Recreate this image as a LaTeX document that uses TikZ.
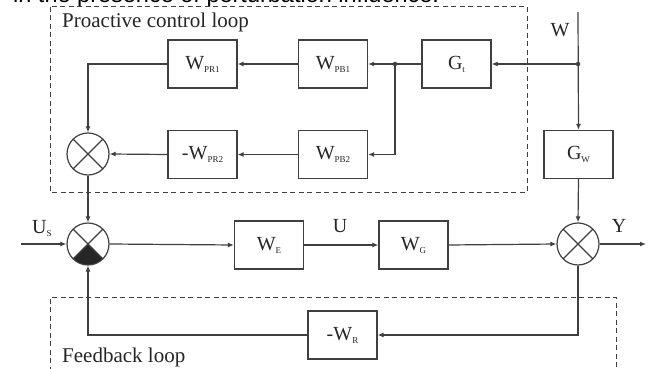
\documentclass[tikz,border=0pt]{standalone}
\usepackage{fontspec}
\setmainfont{Liberation Serif}
\newfontfamily\capfont{Liberation Sans}
\usetikzlibrary{arrows.meta,calc}
\definecolor{ln}{gray}{0.25}
\tikzset{
  blk/.style={draw=ln,line width=1.2pt,minimum width=69pt,minimum height=48pt,inner sep=0pt,font=\fontsize{20}{20}\selectfont,text=black!85},
  sumc/.style={draw=ln,line width=1.2pt,circle,minimum size=42pt,inner sep=0pt,
    path picture={\draw[ln,line width=1.2pt] (path picture bounding box.north west)--(path picture bounding box.south east)
      (path picture bounding box.north east)--(path picture bounding box.south west);}},
  sumf/.style={sumc,path picture={
      \fill[black!85] (path picture bounding box.center)--(path picture bounding box.south west)--(path picture bounding box.south east)--cycle;
      \draw[ln,line width=1.2pt] (path picture bounding box.north west)--(path picture bounding box.south east)
      (path picture bounding box.north east)--(path picture bounding box.south west);}},
  con/.style={draw=ln,line width=1.2pt},
  arr/.style={con,-{Latex[length=6pt,width=5pt]}},
  dbox/.style={draw=ln,line width=1pt,dash pattern=on 5pt off 3.5pt},
  lbl/.style={font=\fontsize{20}{20}\selectfont,text=black!85,inner sep=0pt},
  dot/.style={circle,fill=ln,inner sep=0pt,minimum size=4.5pt}
}
\newcommand{\sbs}[1]{\raisebox{-3pt}{\fontsize{9}{9}\selectfont #1}}
\begin{document}
\begin{tikzpicture}[x=1pt,y=-1pt]
\useasboundingbox (0,0) rectangle (648,369);
\fill[white] (0,0) rectangle (648,369);
% caption cut off at top
\node[anchor=base west,inner sep=0pt,font=\capfont\fontsize{23.5}{23.5}\selectfont] (cap) at (13,3) {in the presence of perturbation influence.};
% dashed regions
\draw[dbox] (50,7) rectangle (527,192);
\draw[dbox] (50,380) -- (50,297) -- (616,297) -- (616,380);
\node[anchor=base west,font=\fontsize{21}{21}\selectfont,inner sep=0pt,text=black!85] (pcl) at (62,28) {Proactive control loop};
\node[anchor=base west,font=\fontsize{21}{21}\selectfont,inner sep=0pt,text=black!85] (fbl) at (62,362) {Feedback loop};
% blocks
\node[blk] (WPR1) at (202.5,64) {W\sbs{PR1}};
\node[blk] (WPB1) at (333,64) {W\sbs{PB1}};
\node[blk] (Gt) at (456.5,64) {G\sbs{t}};
\node[blk] (GW) at (578.5,154.5) {G\sbs{W}};
\node[blk] (WPB2) at (333,154.5) {W\sbs{PB2}};
\node[blk] (WPR2) at (202.5,154.5) {-W\sbs{PR2}};
\node[blk] (WE) at (269,245) {W\sbs{E}};
\node[blk] (WG) at (413.5,245) {W\sbs{G}};
\node[blk] (WR) at (342.5,335) {-W\sbs{R}};
% summing junctions
\node[sumc] (s1) at (88,154) {};
\node[sumf] (s2) at (88,244) {};
\node[sumc] (s3) at (578,244) {};
% coordinates
\coordinate (wtop) at (578,12);
\node[dot] (jw) at (578,64) {};
\node[dot] (jg) at (395,64) {};
\coordinate (jg2) at (395,154.5);
\coordinate (usin) at (21,244);
\coordinate (yout) at (646,244);
% labels
\node[lbl,anchor=base] (Wl) at (560,37) {W};
\node[lbl,anchor=base west] (Usl) at (32,233) {U\sbs{S}};
\node[lbl,anchor=base] (Ul) at (340,232) {U};
\node[lbl,anchor=base] (Yl) at (619,232) {Y};
% connectors
\draw[arr] (wtop) -- (GW.north);
\draw[arr] (jw.center) -- (Gt.east);
\draw[arr] (Gt.west) -- (WPB1.east);
\draw[con] (jg.center) -- (jg2);
\draw[arr] (jg2) -- (WPB2.east);
\draw[arr] (WPB1.west) -- (WPR1.east);
\draw[arr] (WPB2.west) -- (WPR2.east);
\draw[arr] (WPR1.west) -| (s1.north);
\draw[arr] (WPR2.west) -- (s1.east);
\draw[arr] (s1.south) -- (s2.north);
\draw[arr] (usin) -- (s2.west);
\draw[arr] (s2.east) -- (WE.west);
\draw[arr] (WE.east) -- (WG.west);
\draw[arr] (WG.east) -- (s3.west);
\draw[arr] (GW.south) -- (s3.north);
\draw[arr] (s3.east) -- (yout);
\draw[arr] (s3.south) |- (WR.east);
\draw[arr] (WR.west) -| (s2.south);
\end{tikzpicture}
\end{document}
